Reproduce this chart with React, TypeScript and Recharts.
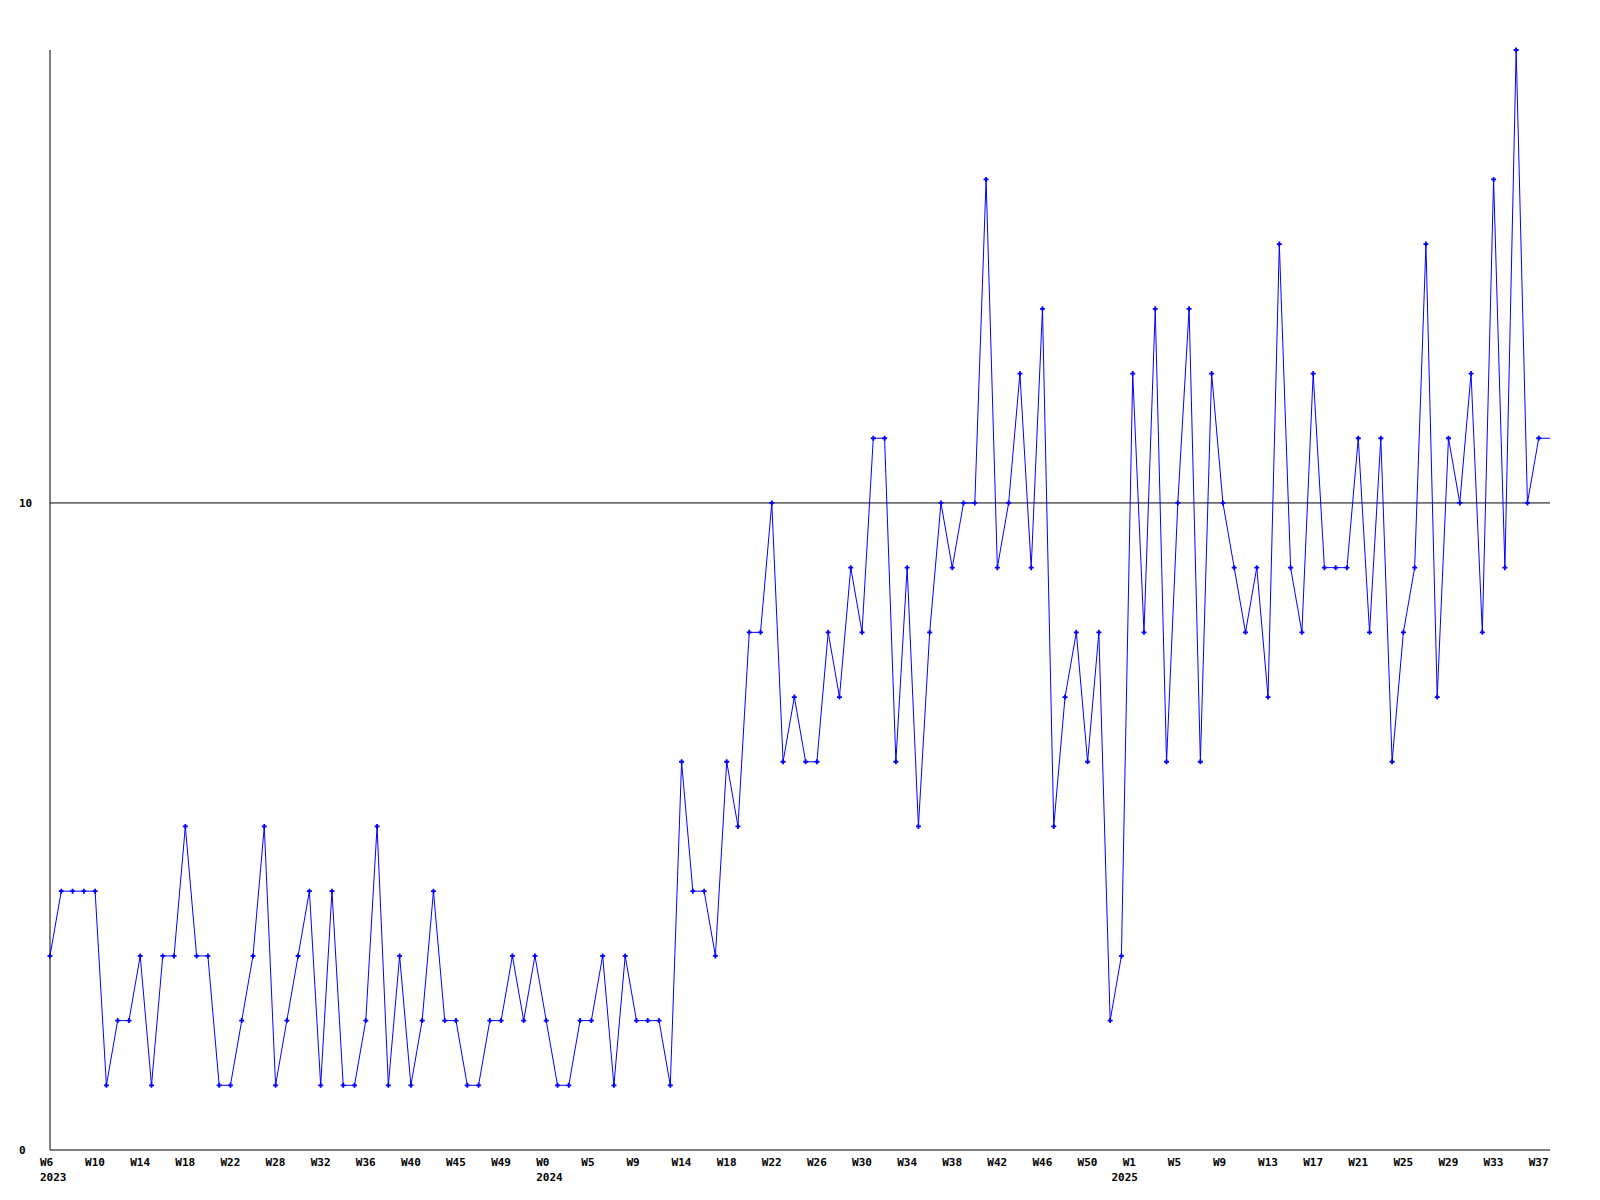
import { LineChart, Line, XAxis, YAxis, ReferenceLine } from "recharts";

// weekly counts, 2023 W6 .. 2025 W37
const counts = [
  3, 4, 4, 4, 4, 1, 2, 2, 3, 1,
  3, 3, 5, 3, 3, 1, 1, 2, 3, 5,
  1, 2, 3, 4, 1, 4, 1, 1, 2, 5,
  1, 3, 1, 2, 4, 2, 2, 1, 1, 2,
  2, 3, 2, 3, 2, 1, 1, 2, 2, 3,
  1, 3, 2, 2, 2, 1, 6, 4, 4, 3,
  6, 5, 8, 8, 10, 6, 7, 6, 6, 8,
  7, 9, 8, 11, 11, 6, 9, 5, 8, 10,
  9, 10, 10, 15, 9, 10, 12, 9, 13, 5,
  7, 8, 6, 8, 2, 3, 12, 8, 13, 6,
  10, 13, 6, 12, 10, 9, 8, 9, 7, 14,
  9, 8, 12, 9, 9, 9, 11, 8, 11, 6,
  8, 9, 14, 7, 11, 10, 12, 8, 15, 9,
  17, 10, 11, 11,
];

// one label every 4 points
const weekLabels = [
  "W6", "W10", "W14", "W18", "W22", "W28", "W32", "W36", "W40", "W45", "W49",
  "W0", "W5", "W9", "W14", "W18", "W22", "W26", "W30", "W34", "W38", "W42",
  "W46", "W50", "W1", "W5", "W9", "W13", "W17", "W21", "W25", "W29", "W33", "W37",
];

// index of the first point of each year
const yearStarts: Record<number, string> = { 0: "2023", 44: "2024", 95: "2025" };

const yTicks = [0, 10];

const data = counts.map((v, i) => ({ i, v }));
const lastIndex = counts.length - 1;
const xTicks = Array.from(
  new Set([...weekLabels.map((_, k) => k * 4), ...Object.keys(yearStarts).map(Number)])
).sort((a, b) => a - b);

const FONT = "'DejaVu Sans Mono', monospace";

function WeekTick(props: any) {
  const { x, y, payload } = props;
  const idx = payload.value as number;
  const week = idx % 4 === 0 ? weekLabels[idx / 4] : null;
  const year = yearStarts[idx];
  return (
    <g>
      {week && (
        <text x={x - 10} y={y + 16} fontSize={11} fontWeight="bold" fontFamily={FONT} fill="#000">
          {week}
        </text>
      )}
      {year && (
        <text x={x - 10} y={y + 31} fontSize={11} fontWeight="bold" fontFamily={FONT} fill="#000">
          {year}
        </text>
      )}
    </g>
  );
}

// y labels are left aligned in the original
function ValueTick(props: any) {
  const { y, payload } = props;
  return (
    <text x={19} y={y + 4} fontSize={11} fontWeight="bold" fontFamily={FONT} fill="#000">
      {payload.value}
    </text>
  );
}

function Marker(props: any) {
  const { cx, cy, index } = props;
  if (index === lastIndex || cx == null) return <g key={`m-${index}`} />;
  return (
    <path
      key={`m-${index}`}
      d={`M${cx - 2.5},${cy}H${cx + 2.5}M${cx},${cy - 2.5}V${cy + 2.5}`}
      stroke="#0000ff"
      strokeWidth={1.8}
      fill="none"
    />
  );
}

export default function App() {
  return (
    <div style={{ width: 1600, height: 1200, background: "#fff" }}>
      <style>{`body{margin:0}`}</style>
      <LineChart width={1600} height={1200} data={data} margin={{ top: 50, right: 50, bottom: 0, left: 0 }}>
        <XAxis
          dataKey="i"
          type="number"
          domain={[0, lastIndex]}
          ticks={xTicks}
          interval={0}
          height={50}
          tickLine={false}
          tickSize={0}
          tickMargin={0}
          stroke="#000"
          tick={<WeekTick />}
        />
        <YAxis
          domain={[0, 17]}
          ticks={yTicks}
          width={50}
          tickLine={false}
          tickSize={0}
          tickMargin={16}
          stroke="#000"
          tick={<ValueTick />}
        />
        <ReferenceLine y={10} stroke="#000" strokeWidth={1} />
        <Line
          type="linear"
          dataKey="v"
          stroke="#0000ff"
          strokeWidth={1}
          dot={Marker}
          activeDot={false}
          isAnimationActive={false}
        />
      </LineChart>
    </div>
  );
}
